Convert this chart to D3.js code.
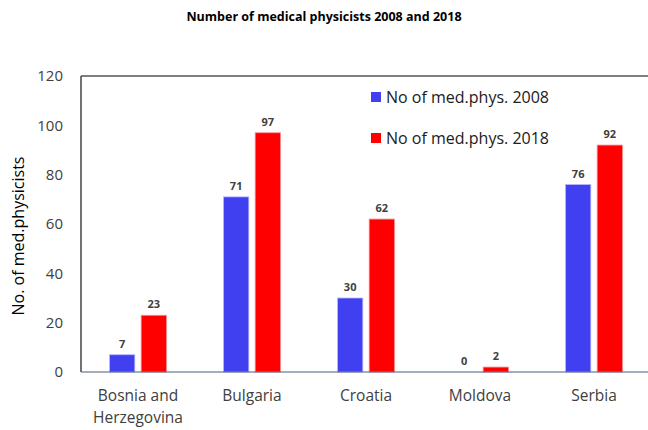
<!DOCTYPE html>
<html>
<head>
<meta charset="utf-8">
<script src="https://cdn.jsdelivr.net/npm/d3@7"></script>
<style>
  html, body { margin: 0; padding: 0; background: #fff; }
  svg { display: block; }
  text { font-family: "Open Sans", "Liberation Sans", sans-serif; }
</style>
</head>
<body>
<svg id="chart" width="648" height="430"></svg>
<script>
// Countries along the x axis
const categories = ["Bosnia and Herzegovina", "Bulgaria", "Croatia", "Moldova", "Serbia"];
// Number of medical physicists per country
const values2008 = [7, 71, 30, 0, 76];
const values2018 = [23, 97, 62, 2, 92];
const seriesNames = ["No of med.phys. 2008", "No of med.phys. 2018"];
const yTicks = [0, 20, 40, 60, 80, 100, 120];

const colors = ["#4040F0", "#FF0000"];
const W = 648, H = 430;
const plot = { left: 81, right: 651, top: 76, bottom: 372 };

const svg = d3.select("#chart");

const x0 = d3.scaleBand()
  .domain(categories)
  .range([plot.left, plot.right])
  .paddingInner(0.5)
  .paddingOuter(0.25);

const x1 = d3.scaleBand()
  .domain(seriesNames)
  .range([0, x0.bandwidth()])
  .paddingInner(0.2);

const y = d3.scaleLinear().domain([0, 120]).range([plot.bottom, plot.top]);

// Title
svg.append("text")
  .attr("x", W / 2).attr("y", 21)
  .attr("text-anchor", "middle")
  .attr("font-size", 12.5).attr("font-weight", "bold")
  .attr("fill", "#000")
  .text("Number of medical physicists 2008 and 2018");

// Plot frame: top and left edges
svg.append("line")
  .attr("x1", plot.left).attr("x2", W)
  .attr("y1", plot.top).attr("y2", plot.top)
  .attr("stroke", "#555").attr("stroke-width", 1.5);
svg.append("line")
  .attr("x1", plot.left).attr("x2", plot.left)
  .attr("y1", plot.top).attr("y2", plot.bottom)
  .attr("stroke", "#444").attr("stroke-width", 1.5);

// Y axis tick labels
const yAxis = d3.axisLeft(y).tickValues(yTicks).tickSize(0).tickPadding(18);
const gy = svg.append("g").attr("transform", `translate(${plot.left},0)`).call(yAxis);
gy.select(".domain").remove();
gy.selectAll("text")
  .attr("font-size", 15).attr("fill", "#404040")
  .attr("font-family", "'Open Sans', sans-serif");

// Y axis title
svg.append("text")
  .attr("transform", `translate(24,${(plot.top + plot.bottom) / 2 + 12}) rotate(-90)`)
  .attr("text-anchor", "middle")
  .attr("font-size", 16).attr("fill", "#000")
  .text("No. of med.physicists");

// Bars
const series = [values2008, values2018];
const groups = svg.append("g").selectAll("g")
  .data(categories)
  .join("g")
  .attr("transform", d => `translate(${x0(d)},0)`);

groups.selectAll("rect")
  .data((d, i) => series.map((s, k) => ({ name: seriesNames[k], v: s[i], k })))
  .join("rect")
  .attr("x", d => x1(d.name))
  .attr("width", x1.bandwidth())
  .attr("y", d => y(d.v))
  .attr("height", d => y(0) - y(d.v))
  .attr("fill", d => colors[d.k])
  .attr("stroke", d => d.k === 0 ? "#b8b8ff" : "#ff9090")
  .attr("stroke-width", d => d.v > 0 ? 0.8 : 0);

// Value labels
groups.selectAll("text.val")
  .data((d, i) => series.map((s, k) => ({ name: seriesNames[k], v: s[i], k })))
  .join("text")
  .attr("class", "val")
  .attr("x", d => x1(d.name) + x1.bandwidth() / 2)
  .attr("y", d => y(d.v) - 7)
  .attr("text-anchor", "middle")
  .attr("font-size", 11).attr("font-weight", "bold")
  .attr("fill", "#404040")
  .text(d => d.v);

// Baseline
svg.append("line")
  .attr("x1", plot.left).attr("x2", W)
  .attr("y1", plot.bottom).attr("y2", plot.bottom)
  .attr("stroke", "#4a5d78").attr("stroke-width", 1.2);

// Category labels (wrapped on two lines when long)
const catLines = {
  "Bosnia and Herzegovina": ["Bosnia and", "Herzegovina"]
};
categories.forEach(c => {
  const lines = catLines[c] || [c];
  const t = svg.append("text")
    .attr("x", x0(c) + x0.bandwidth() / 2)
    .attr("y", 401)
    .attr("text-anchor", "middle")
    .attr("font-size", 15.5).attr("fill", "#404040");
  lines.forEach((l, i) => {
    t.append("tspan")
      .attr("x", x0(c) + x0.bandwidth() / 2)
      .attr("dy", i === 0 ? 0 : 22)
      .text(l);
  });
});

// Legend
const legend = svg.append("g").attr("transform", "translate(371,0)");
seriesNames.forEach((n, k) => {
  const cy = 97 + k * 41;
  legend.append("rect")
    .attr("x", 0).attr("y", cy - 5)
    .attr("width", 10).attr("height", 10)
    .attr("fill", colors[k]);
  legend.append("text")
    .attr("x", 15).attr("y", cy + 6)
    .attr("font-size", 16).attr("fill", "#202020")
    .text(n);
});
</script>
</body>
</html>
